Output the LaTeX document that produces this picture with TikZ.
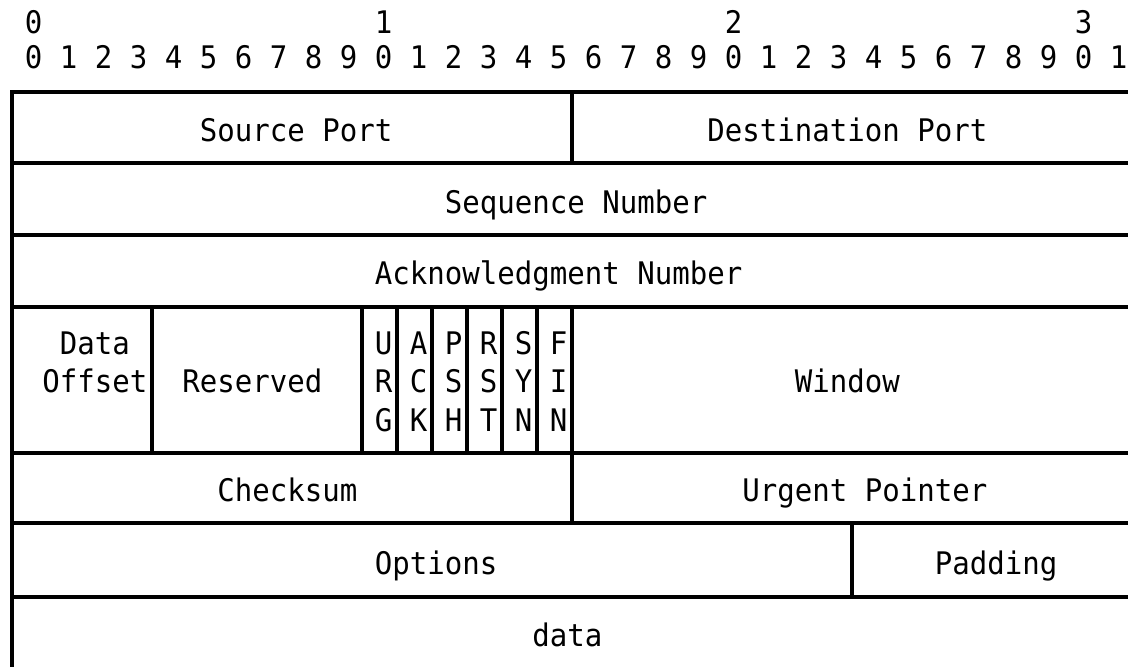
\documentclass[tikz,border=0pt]{standalone}
\usepackage{fontspec}
\usepackage{graphicx}
\setmonofont{DejaVu Sans Mono}
% #1 name, #2 column, #3 vertical centre of the text line, #4 text
\newcommand\fldtxt[4]{\node[fldtext] (#1) at ({17.5*(#2)-45.25},{#3+11.4}) {\scalebox{1}[1.07]{#4}};}
\begin{document}
\begin{tikzpicture}[x=1pt,y=-1pt,
  fldtext/.style={anchor=base west,inner sep=0pt,outer sep=0pt,
    font=\ttfamily\fontsize{29.07}{36}\selectfont,text=black},
  rule/.style={draw=black,line width=3.3pt,line cap=butt}]
\useasboundingbox (0,0) rectangle (1128,667);
% bit ruler
\fldtxt{t0}{4}{22}{0}
\fldtxt{t1}{24}{22}{1}
\fldtxt{t2}{44}{22}{2}
\fldtxt{t3}{64}{22}{3}
\foreach \i in {0,...,31}{
  \pgfmathtruncatemacro\d{mod(\i,10)}
  \pgfmathsetmacro\c{4+2*\i}
  \node[fldtext] (b\i) at ({17.5*\c-45.25},{57+11.4}) {\scalebox{1}[1.07]{\d}};
}
% grid lines
\draw[rule] (1128,92) -- (12,92) -- (12,667);
\foreach \y in {163,235,307,453,523,597}{
  \draw[rule] (12,\y) -- (1128,\y);
}
\draw[rule] (572,92) -- (572,163);
\draw[rule] (152,307) -- (152,453);
\foreach \x in {362,397,432,467,502,537,572}{
  \draw[rule] (\x,307) -- (\x,453);
}
\draw[rule] (572,453) -- (572,523);
\draw[rule] (852,523) -- (852,597);
% fields
\fldtxt{src}{14}{130}{Source Port}
\fldtxt{dst}{43}{130}{Destination Port}
\fldtxt{seq}{28}{202}{Sequence Number}
\fldtxt{ack}{24}{273}{Acknowledgment Number}
\fldtxt{off1}{6}{343.5}{Data}
\fldtxt{off2}{5}{381.5}{Offset}
\fldtxt{res}{13}{381.5}{Reserved}
\fldtxt{u1}{24}{343.5}{U}\fldtxt{u2}{24}{381.5}{R}\fldtxt{u3}{24}{420}{G}
\fldtxt{a1}{26}{343.5}{A}\fldtxt{a2}{26}{381.5}{C}\fldtxt{a3}{26}{420}{K}
\fldtxt{p1}{28}{343.5}{P}\fldtxt{p2}{28}{381.5}{S}\fldtxt{p3}{28}{420}{H}
\fldtxt{r1}{30}{343.5}{R}\fldtxt{r2}{30}{381.5}{S}\fldtxt{r3}{30}{420}{T}
\fldtxt{s1}{32}{343.5}{S}\fldtxt{s2}{32}{381.5}{Y}\fldtxt{s3}{32}{420}{N}
\fldtxt{f1}{34}{343.5}{F}\fldtxt{f2}{34}{381.5}{I}\fldtxt{f3}{34}{420}{N}
\fldtxt{win}{48}{381.5}{Window}
\fldtxt{chk}{15}{490}{Checksum}
\fldtxt{urg}{45}{490}{Urgent Pointer}
\fldtxt{opt}{24}{563}{Options}
\fldtxt{pad}{56}{563}{Padding}
\fldtxt{dat}{33}{635}{data}
\end{tikzpicture}
\end{document}
